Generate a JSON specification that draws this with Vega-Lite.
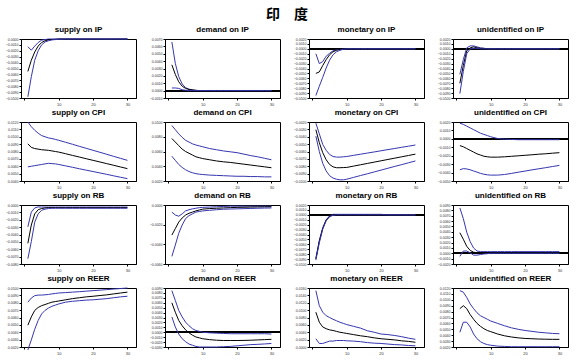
{
"$schema":"https://vega.github.io/schema/vega-lite/v6.json",
"padding":{"left":4,"top":7,"right":4,"bottom":2},
"background":"white",
"title":{"text":"印\u2003度","font":"Noto Sans CJK SC","fontSize":14,"fontWeight":"bold","anchor":"middle","offset":4,"color":"#000"},
"config":{
 "view":{"stroke":"#000","strokeWidth":1},
 "title":{"font":"Liberation Sans","fontSize":8,"fontWeight":"bold","offset":3,"color":"#000"},
 "axis":{"grid":false,"labelFontSize":3.5,"labelFont":"Liberation Sans","labelColor":"#333","tickSize":2,"tickColor":"#000","domainColor":"#000","title":null,"labelPadding":1,"labelOverlap":false},
 "axisY":{"tickCount":9,"format":".4f"},
 "axisX":{"values":[0,1,2,3,4,5,6,7,8,9,10,11,12,13,14,15,16,17,18,19,20,21,22,23,24,25,26,27,28,29,30,31,32],"labelExpr":"datum.value % 5 == 0 && datum.value > 0 ? datum.label : ''","labelFontSize":4,"labelPadding":2,"labelOverlap":false,"labelBound":false},
 "line":{"strokeWidth":1,"clip":true},
 "rule":{"strokeWidth":1,"color":"#000"}
},
"datasets":{
"p1":[
{"h":1,"a":-0.0013,"b":-0.0055,"c":-0.0098},{"h":2,"a":-0.0019,"b":-0.0036,"c":-0.0064},{"h":3,"a":-0.0012,"b":-0.0022,"c":-0.0036},{"h":4,"a":-0.0006,"b":-0.0012,"c":-0.002},{"h":5,"a":-0.0002,"b":-0.0006,"c":-0.001},{"h":6,"a":-0.0001,"b":-0.0003,"c":-0.0005},{"h":7,"a":0,"b":-0.00015,"c":-0.0003},{"h":8,"a":0,"b":-0.0001,"c":-0.00015},{"h":9,"a":0,"b":-0.00005,"c":-0.0001},{"h":10,"a":0,"b":0,"c":-0.00005},{"h":12,"a":0,"b":0,"c":0},{"h":14,"a":0,"b":0,"c":0},{"h":16,"a":0,"b":0,"c":0},{"h":18,"a":0,"b":0,"c":0},{"h":20,"a":0,"b":0,"c":0},{"h":22,"a":0,"b":0,"c":0},{"h":24,"a":0,"b":0,"c":0},{"h":26,"a":0,"b":0,"c":0},{"h":28,"a":0,"b":0,"c":0},{"h":30,"a":0,"b":0,"c":0}],
"p2":[
{"h":1,"a":0.0066,"b":0.0035,"c":0.00036},{"h":2,"a":0.0037,"b":0.0022,"c":0.00036},{"h":3,"a":0.0019,"b":0.0012,"c":0.0003},{"h":4,"a":0.0009,"b":0.0006,"c":0.00012},{"h":5,"a":0.0004,"b":0.0003,"c":0.00005},{"h":6,"a":0.0002,"b":0.00015,"c":0},{"h":7,"a":0.0001,"b":0.0001,"c":0},{"h":8,"a":0,"b":0.00005,"c":0},{"h":9,"a":0,"b":0,"c":0},{"h":10,"a":0,"b":0,"c":0},{"h":12,"a":0,"b":0,"c":0},{"h":14,"a":0,"b":0,"c":0},{"h":16,"a":0,"b":0,"c":0},{"h":18,"a":0,"b":0,"c":0},{"h":20,"a":0,"b":0,"c":0},{"h":22,"a":0,"b":0,"c":0},{"h":24,"a":0,"b":0,"c":0},{"h":26,"a":0,"b":0,"c":0},{"h":28,"a":0,"b":0,"c":0},{"h":30,"a":0,"b":0,"c":0}],
"p3":[
{"h":1,"a":-0.001,"b":-0.005,"c":-0.0095},{"h":2,"a":-0.003,"b":-0.0047,"c":-0.0076},{"h":3,"a":-0.0026,"b":-0.0034,"c":-0.0058},{"h":4,"a":-0.0015,"b":-0.0022,"c":-0.0039},{"h":5,"a":-0.0009,"b":-0.0012,"c":-0.0023},{"h":6,"a":-0.0004,"b":-0.0006,"c":-0.0012},{"h":7,"a":-0.0002,"b":-0.0003,"c":-0.0006},{"h":8,"a":-0.0001,"b":-0.0001,"c":-0.0003},{"h":9,"a":0,"b":0,"c":-0.0001},{"h":10,"a":0,"b":0,"c":0},{"h":12,"a":0,"b":0,"c":0},{"h":14,"a":0,"b":0,"c":0},{"h":16,"a":0,"b":0,"c":0},{"h":18,"a":0,"b":0,"c":0},{"h":20,"a":0,"b":0,"c":0},{"h":22,"a":0,"b":0,"c":0},{"h":24,"a":0,"b":0,"c":0},{"h":26,"a":0,"b":0,"c":0},{"h":28,"a":0,"b":0,"c":0},{"h":30,"a":0,"b":0,"c":0}],
"p4":[
{"h":1,"a":-0.0052,"b":-0.007,"c":-0.0091},{"h":2,"a":-0.0022,"b":-0.0034,"c":-0.0046},{"h":3,"a":0.0002,"b":-0.0004,"c":-0.001},{"h":4,"a":0.0006,"b":0.0002,"c":0},{"h":5,"a":0.0006,"b":0.0004,"c":0.0001},{"h":6,"a":0.0004,"b":0.0002,"c":0.0001},{"h":7,"a":0.0002,"b":0.0001,"c":0},{"h":8,"a":0.0001,"b":0.0001,"c":0},{"h":9,"a":0,"b":0,"c":0},{"h":10,"a":0,"b":0,"c":0},{"h":12,"a":0,"b":0,"c":0},{"h":14,"a":0,"b":0,"c":0},{"h":16,"a":0,"b":0,"c":0},{"h":18,"a":0,"b":0,"c":0},{"h":20,"a":0,"b":0,"c":0},{"h":22,"a":0,"b":0,"c":0},{"h":24,"a":0,"b":0,"c":0},{"h":26,"a":0,"b":0,"c":0},{"h":28,"a":0,"b":0,"c":0},{"h":30,"a":0,"b":0,"c":0}],
"p5":[
{"h":1,"a":0.012,"b":0.00904,"c":0.00592},{"h":2,"a":0.01136,"b":0.00856,"c":0.006},{"h":3,"a":0.01088,"b":0.0084,"c":0.00608},{"h":4,"a":0.01048,"b":0.00832,"c":0.00616},{"h":5,"a":0.01016,"b":0.00824,"c":0.00624},{"h":6,"a":0.01,"b":0.0082,"c":0.00632},{"h":7,"a":0.00984,"b":0.00816,"c":0.0064},{"h":8,"a":0.00976,"b":0.00808,"c":0.00636},{"h":9,"a":0.00964,"b":0.008,"c":0.00632},{"h":10,"a":0.00952,"b":0.00792,"c":0.00624},{"h":12,"a":0.00925,"b":0.0077,"c":0.00605},{"h":14,"a":0.00898,"b":0.00747,"c":0.00586},{"h":16,"a":0.0087,"b":0.00725,"c":0.00566},{"h":18,"a":0.00843,"b":0.00702,"c":0.00547},{"h":20,"a":0.00816,"b":0.0068,"c":0.00528},{"h":22,"a":0.00789,"b":0.00658,"c":0.00509},{"h":24,"a":0.00762,"b":0.00635,"c":0.0049},{"h":26,"a":0.00734,"b":0.00613,"c":0.0047},{"h":28,"a":0.00707,"b":0.0059,"c":0.00451},{"h":30,"a":0.0068,"b":0.00568,"c":0.00432}],
"p6":[
{"h":1,"a":0.00952,"b":0.00776,"c":0.00536},{"h":2,"a":0.00896,"b":0.00728,"c":0.0048},{"h":3,"a":0.0084,"b":0.0068,"c":0.00424},{"h":4,"a":0.00792,"b":0.00632,"c":0.00384},{"h":5,"a":0.00752,"b":0.006,"c":0.00352},{"h":6,"a":0.00728,"b":0.00576,"c":0.00328},{"h":7,"a":0.00704,"b":0.00552,"c":0.00312},{"h":8,"a":0.00688,"b":0.00528,"c":0.003},{"h":9,"a":0.00676,"b":0.00516,"c":0.00292},{"h":10,"a":0.00664,"b":0.00504,"c":0.00288},{"h":12,"a":0.0064,"b":0.00488,"c":0.0028},{"h":14,"a":0.00624,"b":0.00472,"c":0.00276},{"h":16,"a":0.00608,"b":0.0046,"c":0.00272},{"h":18,"a":0.00596,"b":0.00452,"c":0.00268},{"h":20,"a":0.00584,"b":0.0044,"c":0.00264},{"h":22,"a":0.00564,"b":0.00428,"c":0.00264},{"h":24,"a":0.00544,"b":0.00416,"c":0.0026},{"h":26,"a":0.00528,"b":0.00404,"c":0.0026},{"h":28,"a":0.00508,"b":0.00392,"c":0.00256},{"h":30,"a":0.00488,"b":0.0038,"c":0.00256}],
"p7":[
{"h":1,"a":-0.00216,"b":-0.00304,"c":-0.00392},{"h":2,"a":-0.0036,"b":-0.0048,"c":-0.006},{"h":3,"a":-0.00504,"b":-0.00616,"c":-0.0076},{"h":4,"a":-0.00584,"b":-0.00712,"c":-0.00864},{"h":5,"a":-0.0064,"b":-0.00776,"c":-0.00928},{"h":6,"a":-0.00668,"b":-0.00808,"c":-0.0096},{"h":7,"a":-0.00676,"b":-0.0082,"c":-0.00976},{"h":8,"a":-0.00676,"b":-0.0082,"c":-0.00984},{"h":9,"a":-0.00672,"b":-0.00818,"c":-0.00984},{"h":10,"a":-0.00668,"b":-0.00816,"c":-0.00976},{"h":12,"a":-0.00652,"b":-0.00798,"c":-0.00951},{"h":14,"a":-0.00637,"b":-0.0078,"c":-0.00926},{"h":16,"a":-0.00621,"b":-0.00762,"c":-0.00902},{"h":18,"a":-0.00606,"b":-0.00744,"c":-0.00877},{"h":20,"a":-0.0059,"b":-0.00726,"c":-0.00852},{"h":22,"a":-0.00574,"b":-0.00708,"c":-0.00827},{"h":24,"a":-0.00559,"b":-0.0069,"c":-0.00802},{"h":26,"a":-0.00543,"b":-0.00672,"c":-0.00778},{"h":28,"a":-0.00528,"b":-0.00654,"c":-0.00753},{"h":30,"a":-0.00512,"b":-0.00636,"c":-0.00728}],
"p8":[
{"h":1,"a":0.00186,"b":-0.0008,"c":-0.00367},{"h":2,"a":0.00172,"b":-0.00094,"c":-0.00353},{"h":3,"a":0.00151,"b":-0.00115,"c":-0.00357},{"h":4,"a":0.0013,"b":-0.00136,"c":-0.00367},{"h":5,"a":0.00109,"b":-0.00157,"c":-0.00381},{"h":6,"a":0.00088,"b":-0.00178,"c":-0.00395},{"h":7,"a":0.00067,"b":-0.00192,"c":-0.00409},{"h":8,"a":0.00053,"b":-0.00206,"c":-0.0042},{"h":9,"a":0.00039,"b":-0.00213,"c":-0.00427},{"h":10,"a":0.00025,"b":-0.00217,"c":-0.0043},{"h":12,"a":0.00004,"b":-0.00217,"c":-0.0043},{"h":14,"a":-0.00003,"b":-0.00213,"c":-0.00423},{"h":16,"a":-0.00007,"b":-0.00207,"c":-0.0041},{"h":18,"a":-0.0001,"b":-0.00201,"c":-0.00396},{"h":20,"a":-0.0001,"b":-0.00195,"c":-0.00382},{"h":22,"a":-0.0001,"b":-0.00189,"c":-0.00368},{"h":24,"a":-0.0001,"b":-0.00182,"c":-0.00355},{"h":26,"a":-0.0001,"b":-0.00177,"c":-0.00342},{"h":28,"a":-0.0001,"b":-0.0017,"c":-0.00328},{"h":30,"a":-0.0001,"b":-0.00164,"c":-0.00315}],
"p9":[
{"h":1,"a":-0.00296,"b":-0.0052,"c":-0.00728},{"h":2,"a":-0.00096,"b":-0.00272,"c":-0.00496},{"h":3,"a":-0.0004,"b":-0.0012,"c":-0.00232},{"h":4,"a":-0.00026,"b":-0.00064,"c":-0.0012},{"h":5,"a":-0.00028,"b":-0.00048,"c":-0.00072},{"h":6,"a":-0.00028,"b":-0.0004,"c":-0.00056},{"h":7,"a":-0.00028,"b":-0.00036,"c":-0.00048},{"h":8,"a":-0.00028,"b":-0.00036,"c":-0.00044},{"h":9,"a":-0.00028,"b":-0.00036,"c":-0.00044},{"h":10,"a":-0.00028,"b":-0.00036,"c":-0.00044},{"h":12,"a":-0.00028,"b":-0.00036,"c":-0.00044},{"h":14,"a":-0.00028,"b":-0.00036,"c":-0.00044},{"h":16,"a":-0.00028,"b":-0.00036,"c":-0.00044},{"h":18,"a":-0.00028,"b":-0.00036,"c":-0.00044},{"h":20,"a":-0.00028,"b":-0.00036,"c":-0.00044},{"h":22,"a":-0.00028,"b":-0.00036,"c":-0.00044},{"h":24,"a":-0.00028,"b":-0.00036,"c":-0.00044},{"h":26,"a":-0.00028,"b":-0.00036,"c":-0.00044},{"h":28,"a":-0.00028,"b":-0.00036,"c":-0.00044},{"h":30,"a":-0.00028,"b":-0.00036,"c":-0.00044}],
"p10":[
{"h":1,"a":-0.00072,"b":-0.00306,"c":-0.00522},{"h":2,"a":-0.00102,"b":-0.0024,"c":-0.00408},{"h":3,"a":-0.00114,"b":-0.00174,"c":-0.00288},{"h":4,"a":-0.0009,"b":-0.00132,"c":-0.00204},{"h":5,"a":-0.0006,"b":-0.00102,"c":-0.00138},{"h":6,"a":-0.00048,"b":-0.00084,"c":-0.00108},{"h":7,"a":-0.00039,"b":-0.00072,"c":-0.0009},{"h":8,"a":-0.00033,"b":-0.0006,"c":-0.00072},{"h":9,"a":-0.00027,"b":-0.00051,"c":-0.00066},{"h":10,"a":-0.00024,"b":-0.00042,"c":-0.0006},{"h":12,"a":-0.00021,"b":-0.00036,"c":-0.00054},{"h":14,"a":-0.00018,"b":-0.00033,"c":-0.00048},{"h":16,"a":-0.00015,"b":-0.0003,"c":-0.00043},{"h":18,"a":-0.00012,"b":-0.00027,"c":-0.00041},{"h":20,"a":-0.00012,"b":-0.00024,"c":-0.00039},{"h":22,"a":-0.00012,"b":-0.00023,"c":-0.00037},{"h":24,"a":-0.00012,"b":-0.00021,"c":-0.00035},{"h":26,"a":-0.00012,"b":-0.0002,"c":-0.00033},{"h":28,"a":-0.00012,"b":-0.00019,"c":-0.00031},{"h":30,"a":-0.00012,"b":-0.00018,"c":-0.0003}],
"p11":[
{"h":1,"a":-0.0088,"b":-0.009,"c":-0.0092},{"h":2,"a":-0.0052,"b":-0.0054,"c":-0.0057},{"h":3,"a":-0.0026,"b":-0.0028,"c":-0.0029},{"h":4,"a":-0.001,"b":-0.0011,"c":-0.0012},{"h":5,"a":-0.0002,"b":-0.0003,"c":-0.0004},{"h":6,"a":0.0001,"b":0,"c":-0.0001},{"h":7,"a":0.0001,"b":0,"c":0},{"h":8,"a":0.0001,"b":0,"c":0},{"h":9,"a":0.0001,"b":0,"c":0},{"h":10,"a":0.0001,"b":0,"c":0},{"h":12,"a":0.0001,"b":0,"c":0},{"h":14,"a":0.0001,"b":0,"c":0},{"h":16,"a":0.0001,"b":0,"c":0},{"h":18,"a":0.0001,"b":0,"c":0},{"h":20,"a":0.0001,"b":0,"c":0},{"h":22,"a":0,"b":0,"c":0},{"h":24,"a":0,"b":0,"c":0},{"h":26,"a":0,"b":0,"c":0},{"h":28,"a":0,"b":0,"c":0},{"h":30,"a":0,"b":0,"c":0}],
"p12":[
{"h":1,"a":0.00845,"b":0.00383,"c":-0.00057},{"h":2,"a":0.00647,"b":0.00262,"c":0.00042},{"h":3,"a":0.00394,"b":0.0013,"c":0.00042},{"h":4,"a":0.00218,"b":0.00053,"c":0.00009},{"h":5,"a":0.00097,"b":0.0002,"c":-0.00035},{"h":6,"a":0.00042,"b":0.00009,"c":-0.00035},{"h":7,"a":0.00031,"b":0.00009,"c":-0.00024},{"h":8,"a":0.00031,"b":0.00009,"c":-0.00013},{"h":9,"a":0.00031,"b":0.00009,"c":-0.00008},{"h":10,"a":0.00031,"b":0.00009,"c":0},{"h":12,"a":0.00031,"b":0.00009,"c":0},{"h":14,"a":0.00031,"b":0.00009,"c":0},{"h":16,"a":0.00031,"b":0.00009,"c":0},{"h":18,"a":0.00031,"b":0.00009,"c":0},{"h":20,"a":0.00031,"b":0.00009,"c":0},{"h":22,"a":0.00031,"b":0.00009,"c":0},{"h":24,"a":0.00031,"b":0.00009,"c":0},{"h":26,"a":0.00031,"b":0.00009,"c":0},{"h":28,"a":0.00031,"b":0.00009,"c":0},{"h":30,"a":0.00031,"b":0.00009,"c":0}],
"p13":[
{"h":1,"a":0.00808,"b":0.00496,"c":0.0016},{"h":2,"a":0.00864,"b":0.00608,"c":0.00296},{"h":3,"a":0.00896,"b":0.00696,"c":0.0044},{"h":4,"a":0.00904,"b":0.00736,"c":0.0056},{"h":5,"a":0.00904,"b":0.0076,"c":0.00648},{"h":6,"a":0.00908,"b":0.00776,"c":0.00696},{"h":7,"a":0.00912,"b":0.00792,"c":0.00728},{"h":8,"a":0.0092,"b":0.00808,"c":0.00752},{"h":9,"a":0.00926,"b":0.00816,"c":0.00768},{"h":10,"a":0.00932,"b":0.00824,"c":0.00784},{"h":12,"a":0.00938,"b":0.0084,"c":0.00808},{"h":14,"a":0.00944,"b":0.00856,"c":0.0082},{"h":16,"a":0.0095,"b":0.00868,"c":0.00828},{"h":18,"a":0.00957,"b":0.0088,"c":0.00836},{"h":20,"a":0.00964,"b":0.00888,"c":0.0084},{"h":22,"a":0.00971,"b":0.00898,"c":0.00848},{"h":24,"a":0.00978,"b":0.00907,"c":0.00856},{"h":26,"a":0.00986,"b":0.0092,"c":0.00868},{"h":28,"a":0.00993,"b":0.00932,"c":0.0088},{"h":30,"a":0.01,"b":0.00944,"c":0.00888}],
"p14":[
{"h":1,"a":0.00846,"b":0.006,"c":0.00312},{"h":2,"a":0.00648,"b":0.00408,"c":0.00108},{"h":3,"a":0.00444,"b":0.0024,"c":-0.00036},{"h":4,"a":0.00312,"b":0.00132,"c":-0.00132},{"h":5,"a":0.00204,"b":0.00048,"c":-0.00192},{"h":6,"a":0.00132,"b":-0.00012,"c":-0.0024},{"h":7,"a":0.00072,"b":-0.0006,"c":-0.00264},{"h":8,"a":0.00036,"b":-0.00096,"c":-0.00288},{"h":9,"a":0.00018,"b":-0.00114,"c":-0.003},{"h":10,"a":0,"b":-0.00132,"c":-0.003},{"h":12,"a":-0.00012,"b":-0.0015,"c":-0.003},{"h":14,"a":-0.00018,"b":-0.00162,"c":-0.003},{"h":16,"a":-0.00024,"b":-0.00168,"c":-0.00294},{"h":18,"a":-0.0003,"b":-0.00168,"c":-0.00288},{"h":20,"a":-0.0003,"b":-0.00168,"c":-0.00276},{"h":22,"a":-0.0003,"b":-0.00166,"c":-0.00264},{"h":24,"a":-0.0003,"b":-0.00162,"c":-0.00252},{"h":26,"a":-0.0003,"b":-0.00156,"c":-0.00246},{"h":28,"a":-0.0003,"b":-0.0015,"c":-0.00238},{"h":30,"a":-0.00036,"b":-0.00144,"c":-0.00228}],
"p15":[
{"h":1,"a":0.01528,"b":0.00944,"c":0.00224},{"h":2,"a":0.0112,"b":0.00672,"c":0.00096},{"h":3,"a":0.00944,"b":0.00544,"c":0.00096},{"h":4,"a":0.00848,"b":0.00496,"c":0.00128},{"h":5,"a":0.008,"b":0.00464,"c":0.0016},{"h":6,"a":0.00752,"b":0.00448,"c":0.0016},{"h":7,"a":0.00712,"b":0.00424,"c":0.00176},{"h":8,"a":0.00672,"b":0.004,"c":0.00176},{"h":9,"a":0.0064,"b":0.00384,"c":0.00176},{"h":10,"a":0.00608,"b":0.00368,"c":0.00168},{"h":12,"a":0.0056,"b":0.00336,"c":0.0016},{"h":14,"a":0.00512,"b":0.00304,"c":0.00144},{"h":16,"a":0.0044,"b":0.0028,"c":0.0012},{"h":18,"a":0.004,"b":0.00248,"c":0.00104},{"h":20,"a":0.00352,"b":0.00224,"c":0.00096},{"h":22,"a":0.00336,"b":0.00208,"c":0.0008},{"h":24,"a":0.00312,"b":0.00192,"c":0.00064},{"h":26,"a":0.0028,"b":0.00168,"c":0.00056},{"h":28,"a":0.0024,"b":0.00152,"c":0.0004},{"h":30,"a":0.00208,"b":0.00128,"c":0.00032}],
"p16":[
{"h":1,"a":0.01155,"b":0.0085,"c":0.0045},{"h":2,"a":0.0113,"b":0.009,"c":0.0062},{"h":3,"a":0.0104,"b":0.0085,"c":0.0062},{"h":4,"a":0.0093,"b":0.0075,"c":0.0054},{"h":5,"a":0.0085,"b":0.0067,"c":0.0042},{"h":6,"a":0.0078,"b":0.006,"c":0.0034},{"h":7,"a":0.0073,"b":0.0055,"c":0.0029},{"h":8,"a":0.007,"b":0.0051,"c":0.0026},{"h":9,"a":0.0067,"b":0.0048,"c":0.0024},{"h":10,"a":0.0064,"b":0.0046,"c":0.0023},{"h":12,"a":0.006,"b":0.0042,"c":0.00215},{"h":14,"a":0.0056,"b":0.0039,"c":0.0021},{"h":16,"a":0.00525,"b":0.0037,"c":0.00205},{"h":18,"a":0.005,"b":0.00355,"c":0.00205},{"h":20,"a":0.0048,"b":0.00345,"c":0.00205},{"h":22,"a":0.00465,"b":0.0034,"c":0.00205},{"h":24,"a":0.0045,"b":0.00335,"c":0.00205},{"h":26,"a":0.0044,"b":0.00332,"c":0.00205},{"h":28,"a":0.0043,"b":0.0033,"c":0.00205},{"h":30,"a":0.00425,"b":0.0033,"c":0.00205}]
},
"spacing":1,
"vconcat":[
{"hconcat":[
{"data":{"name":"p1"},"title":"supply on IP","width":115,"height":59,"transform":[{"fold":["a","b","c"]}],"layer":[{"mark":"line","encoding":{"x":{"field":"h","type":"quantitative","scale":{"domain":[-1,32.5]}},"y":{"field":"value","type":"quantitative","scale":{"domain":[-0.01,0],"nice":false}},"color":{"field":"key","type":"nominal","scale":{"domain":["a","b","c"],"range":["#3636b0","#000000","#3636b0"]},"legend":null}}}]},
{"data":{"name":"p2"},"title":"demand on IP","width":115,"height":59,"transform":[{"fold":["a","b","c"]}],"layer":[{"mark":"rule","encoding":{"y":{"datum":0}}},{"mark":"line","encoding":{"x":{"field":"h","type":"quantitative","scale":{"domain":[-1,32.5]}},"y":{"field":"value","type":"quantitative","scale":{"domain":[-0.001,0.007],"nice":false}},"color":{"field":"key","type":"nominal","scale":{"domain":["a","b","c"],"range":["#3636b0","#000000","#3636b0"]},"legend":null}}}]},
{"data":{"name":"p3"},"title":"monetary on IP","width":115,"height":59,"transform":[{"fold":["a","b","c"]}],"layer":[{"mark":"rule","encoding":{"y":{"datum":0}}},{"mark":"line","encoding":{"x":{"field":"h","type":"quantitative","scale":{"domain":[-1,32.5]}},"y":{"field":"value","type":"quantitative","scale":{"domain":[-0.01,0.002],"nice":false}},"color":{"field":"key","type":"nominal","scale":{"domain":["a","b","c"],"range":["#3636b0","#000000","#3636b0"]},"legend":null}}}]},
{"data":{"name":"p4"},"title":"unidentified on IP","width":115,"height":59,"transform":[{"fold":["a","b","c"]}],"layer":[{"mark":"rule","encoding":{"y":{"datum":0}}},{"mark":"line","encoding":{"x":{"field":"h","type":"quantitative","scale":{"domain":[-1,32.5]}},"y":{"field":"value","type":"quantitative","scale":{"domain":[-0.01,0.002],"nice":false}},"color":{"field":"key","type":"nominal","scale":{"domain":["a","b","c"],"range":["#3636b0","#000000","#3636b0"]},"legend":null}}}]}
],"spacing":29,"bounds":"flush"},
{"hconcat":[
{"data":{"name":"p5"},"title":"supply on CPI","width":115,"height":59,"transform":[{"fold":["a","b","c"]}],"layer":[{"mark":"line","encoding":{"x":{"field":"h","type":"quantitative","scale":{"domain":[-1,32.5]}},"y":{"field":"value","type":"quantitative","scale":{"domain":[0.004,0.012],"nice":false}},"color":{"field":"key","type":"nominal","scale":{"domain":["a","b","c"],"range":["#3636b0","#000000","#3636b0"]},"legend":null}}}]},
{"data":{"name":"p6"},"title":"demand on CPI","width":115,"height":59,"transform":[{"fold":["a","b","c"]}],"layer":[{"mark":"line","encoding":{"x":{"field":"h","type":"quantitative","scale":{"domain":[-1,32.5]}},"y":{"field":"value","type":"quantitative","scale":{"domain":[0.002,0.01],"nice":false},"axis":{"tickCount":4}},"color":{"field":"key","type":"nominal","scale":{"domain":["a","b","c"],"range":["#3636b0","#000000","#3636b0"]},"legend":null}}}]},
{"data":{"name":"p7"},"title":"monetary on CPI","width":115,"height":59,"transform":[{"fold":["a","b","c"]}],"layer":[{"mark":"line","encoding":{"x":{"field":"h","type":"quantitative","scale":{"domain":[-1,32.5]}},"y":{"field":"value","type":"quantitative","scale":{"domain":[-0.01,-0.002],"nice":false}},"color":{"field":"key","type":"nominal","scale":{"domain":["a","b","c"],"range":["#3636b0","#000000","#3636b0"]},"legend":null}}}]},
{"data":{"name":"p8"},"title":"unidentified on CPI","width":115,"height":59,"transform":[{"fold":["a","b","c"]}],"layer":[{"mark":"rule","encoding":{"y":{"datum":0}}},{"mark":"line","encoding":{"x":{"field":"h","type":"quantitative","scale":{"domain":[-1,32.5]}},"y":{"field":"value","type":"quantitative","scale":{"domain":[-0.005,0.002],"nice":false}},"color":{"field":"key","type":"nominal","scale":{"domain":["a","b","c"],"range":["#3636b0","#000000","#3636b0"]},"legend":null}}}]}
],"spacing":29,"bounds":"flush"},
{"hconcat":[
{"data":{"name":"p9"},"title":"supply on RB","width":115,"height":59,"transform":[{"fold":["a","b","c"]}],"layer":[{"mark":"line","encoding":{"x":{"field":"h","type":"quantitative","scale":{"domain":[-1,32.5]}},"y":{"field":"value","type":"quantitative","scale":{"domain":[-0.008,0],"nice":false}},"color":{"field":"key","type":"nominal","scale":{"domain":["a","b","c"],"range":["#3636b0","#000000","#3636b0"]},"legend":null}}}]},
{"data":{"name":"p10"},"title":"demand on RB","width":115,"height":59,"transform":[{"fold":["a","b","c"]}],"layer":[{"mark":"line","encoding":{"x":{"field":"h","type":"quantitative","scale":{"domain":[-1,32.5]}},"y":{"field":"value","type":"quantitative","scale":{"domain":[-0.006,0],"nice":false},"axis":{"tickCount":4}},"color":{"field":"key","type":"nominal","scale":{"domain":["a","b","c"],"range":["#3636b0","#000000","#3636b0"]},"legend":null}}}]},
{"data":{"name":"p11"},"title":"monetary on RB","width":115,"height":59,"transform":[{"fold":["a","b","c"]}],"layer":[{"mark":"rule","encoding":{"y":{"datum":0}}},{"mark":"line","encoding":{"x":{"field":"h","type":"quantitative","scale":{"domain":[-1,32.5]}},"y":{"field":"value","type":"quantitative","scale":{"domain":[-0.01,0.002],"nice":false}},"color":{"field":"key","type":"nominal","scale":{"domain":["a","b","c"],"range":["#3636b0","#000000","#3636b0"]},"legend":null}}}]},
{"data":{"name":"p12"},"title":"unidentified on RB","width":115,"height":59,"transform":[{"fold":["a","b","c"]}],"layer":[{"mark":"rule","encoding":{"y":{"datum":0}}},{"mark":"line","encoding":{"x":{"field":"h","type":"quantitative","scale":{"domain":[-1,32.5]}},"y":{"field":"value","type":"quantitative","scale":{"domain":[-0.002,0.009],"nice":false}},"color":{"field":"key","type":"nominal","scale":{"domain":["a","b","c"],"range":["#3636b0","#000000","#3636b0"]},"legend":null}}}]}
],"spacing":29,"bounds":"flush"},
{"hconcat":[
{"data":{"name":"p13"},"title":"supply on REER","width":115,"height":59,"transform":[{"fold":["a","b","c"]}],"layer":[{"mark":"line","encoding":{"x":{"field":"h","type":"quantitative","scale":{"domain":[-1,32.5]}},"y":{"field":"value","type":"quantitative","scale":{"domain":[0.002,0.01],"nice":false}},"color":{"field":"key","type":"nominal","scale":{"domain":["a","b","c"],"range":["#3636b0","#000000","#3636b0"]},"legend":null}}}]},
{"data":{"name":"p14"},"title":"demand on REER","width":115,"height":59,"transform":[{"fold":["a","b","c"]}],"layer":[{"mark":"rule","encoding":{"y":{"datum":0}}},{"mark":"line","encoding":{"x":{"field":"h","type":"quantitative","scale":{"domain":[-1,32.5]}},"y":{"field":"value","type":"quantitative","scale":{"domain":[-0.003,0.009],"nice":false}},"color":{"field":"key","type":"nominal","scale":{"domain":["a","b","c"],"range":["#3636b0","#000000","#3636b0"]},"legend":null}}}]},
{"data":{"name":"p15"},"title":"monetary on REER","width":115,"height":59,"transform":[{"fold":["a","b","c"]}],"layer":[{"mark":"line","encoding":{"x":{"field":"h","type":"quantitative","scale":{"domain":[-1,32.5]}},"y":{"field":"value","type":"quantitative","scale":{"domain":[0,0.016],"nice":false}},"color":{"field":"key","type":"nominal","scale":{"domain":["a","b","c"],"range":["#3636b0","#000000","#3636b0"]},"legend":null}}}]},
{"data":{"name":"p16"},"title":"unidentified on REER","width":115,"height":59,"transform":[{"fold":["a","b","c"]}],"layer":[{"mark":"line","encoding":{"x":{"field":"h","type":"quantitative","scale":{"domain":[-1,32.5]}},"y":{"field":"value","type":"quantitative","scale":{"domain":[0.002,0.012],"nice":false}},"color":{"field":"key","type":"nominal","scale":{"domain":["a","b","c"],"range":["#3636b0","#000000","#3636b0"]},"legend":null}}}]}
],"spacing":29,"bounds":"flush"}
]
}
